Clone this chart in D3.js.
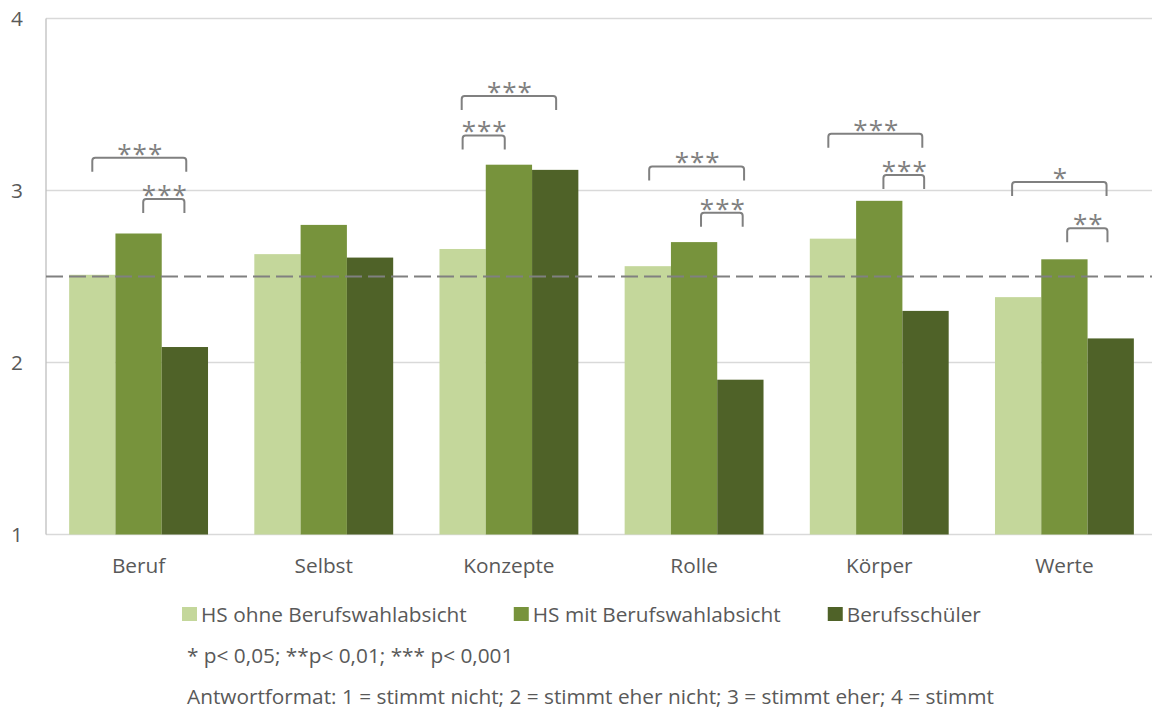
<!DOCTYPE html>
<html>
<head>
<meta charset="utf-8">
<script src="https://cdn.jsdelivr.net/npm/d3@7"></script>
<style>
  body { margin: 0; background: #fff; }
  text { font-family: "Open Sans", "DejaVu Sans", sans-serif; fill: #595959; }
</style>
</head>
<body>
<div id="chart"></div>
<script>
// categories and series
const categories = ["Beruf", "Selbst", "Konzepte", "Rolle", "Körper", "Werte"];
const seriesNames = ["HS ohne Berufswahlabsicht", "HS mit Berufswahlabsicht", "Berufsschüler"];
const seriesColors = ["#c4d79b", "#77933c", "#4f6228"];

const hsOhne = [2.51, 2.63, 2.66, 2.56, 2.72, 2.38];
const hsMit = [2.75, 2.80, 3.15, 2.70, 2.94, 2.60];
const berufsschueler = [2.09, 2.61, 3.12, 1.90, 2.30, 2.14];

const yTicks = [1, 2, 3, 4];
const midLine = 2.5;

// significance brackets: category, from/to (in bar units inside the group), level, label
const brackets = [
  { cat: "Beruf", from: 0.50, to: 2.53, level: 3.19, label: "***" },
  { cat: "Beruf", from: 1.60, to: 2.49, level: 2.95, label: "***" },
  { cat: "Konzepte", from: 0.48, to: 2.52, level: 3.55, label: "***" },
  { cat: "Konzepte", from: 0.50, to: 1.41, level: 3.32, label: "***" },
  { cat: "Rolle", from: 0.53, to: 2.58, level: 3.14, label: "***" },
  { cat: "Rolle", from: 1.65, to: 2.55, level: 2.87, label: "***" },
  { cat: "Körper", from: 0.40, to: 2.43, level: 3.33, label: "***" },
  { cat: "Körper", from: 1.59, to: 2.47, level: 3.09, label: "***" },
  { cat: "Werte", from: 0.37, to: 2.41, level: 3.05, label: "*" },
  { cat: "Werte", from: 1.56, to: 2.43, level: 2.78, label: "**" }
];

const footnote = "* p< 0,05; **p< 0,01; *** p< 0,001";
const antwortformat = "Antwortformat: 1 = stimmt nicht; 2 = stimmt eher nicht; 3 = stimmt eher; 4 = stimmt";

const W = 1152, H = 711;
const margin = { top: 18.5, left: 46, bottom: 711 - 534.5 };
const plotRight = 1157;
const fontSize = "20.8px";

const svg = d3.select("#chart").append("svg")
  .attr("width", W).attr("height", H);

const x0 = d3.scaleBand()
  .domain(categories)
  .range([margin.left, plotRight])
  .paddingInner(0.25)
  .paddingOuter(0.125);

const x1 = d3.scaleBand()
  .domain(d3.range(seriesNames.length))
  .range([0, x0.bandwidth()]);

const y = d3.scaleLinear()
  .domain([1, 4])
  .range([H - margin.bottom, margin.top]);

// gridlines
svg.append("g")
  .selectAll("line")
  .data(yTicks)
  .join("line")
  .attr("x1", margin.left).attr("x2", W)
  .attr("y1", d => y(d)).attr("y2", d => y(d))
  .attr("stroke", "#d9d9d9")
  .attr("stroke-width", d => d === 1 ? 1.5 : 1.3);

// left axis line
svg.append("line")
  .attr("x1", margin.left).attr("x2", margin.left)
  .attr("y1", y(4)).attr("y2", y(1))
  .attr("stroke", "#bfbfbf").attr("stroke-width", 1.3);

// y tick labels
svg.append("g")
  .selectAll("text")
  .data(yTicks)
  .join("text")
  .attr("x", 17)
  .attr("y", d => y(d))
  .attr("dy", "0.35em")
  .attr("text-anchor", "middle")
  .style("font-size", fontSize)
  .text(d => d);

// bars
const values = [hsOhne, hsMit, berufsschueler];
const barData = [];
categories.forEach((c, i) => {
  values.forEach((vals, s) => barData.push({ cat: c, s: s, v: vals[i] }));
});

svg.append("g")
  .selectAll("rect")
  .data(barData)
  .join("rect")
  .attr("x", d => x0(d.cat) + x1(d.s))
  .attr("width", x1.bandwidth())
  .attr("y", d => y(d.v))
  .attr("height", d => y(1) - y(d.v))
  .attr("fill", d => seriesColors[d.s]);

// dashed reference line
svg.append("line")
  .attr("x1", margin.left).attr("x2", W)
  .attr("y1", y(midLine)).attr("y2", y(midLine))
  .attr("stroke", "#808080")
  .attr("stroke-width", 2)
  .attr("stroke-dasharray", "17,6");

// category labels
svg.append("g")
  .selectAll("text")
  .data(categories)
  .join("text")
  .attr("x", d => x0(d) + x0.bandwidth() / 2)
  .attr("y", 573)
  .attr("text-anchor", "middle")
  .style("font-size", fontSize)
  .text(d => d);

// significance brackets
const legLen = 14;
const bw = x1.bandwidth();
const bg = svg.append("g");
brackets.forEach(b => {
  const xa = x0(b.cat) + b.from * bw;
  const xb = x0(b.cat) + b.to * bw;
  const yt = y(b.level);
  const r = 3;
  bg.append("path")
    .attr("d", `M${xa},${yt + legLen} L${xa},${yt + r} Q${xa},${yt} ${xa + r},${yt} L${xb - r},${yt} Q${xb},${yt} ${xb},${yt + r} L${xb},${yt + legLen}`)
    .attr("fill", "none")
    .attr("stroke", "#808080")
    .attr("stroke-width", 2);
  bg.append("text")
    .attr("x", (xa + xb) / 2 + 1)
    .attr("y", yt + 5)
    .attr("text-anchor", "middle")
    .style("font-size", "26px")
    .style("letter-spacing", "1px")
    .style("fill", "#808080")
    .text(b.label);
});

// legend
const legend = svg.append("g");
let lx = 182;
seriesNames.forEach((name, i) => {
  legend.append("rect")
    .attr("x", lx).attr("y", 607)
    .attr("width", 15).attr("height", 14)
    .attr("fill", seriesColors[i]);
  const t = legend.append("text")
    .attr("x", lx + 19)
    .attr("y", 621.5)
    .style("font-size", fontSize)
    .text(name);
  lx += 19 + t.node().getComputedTextLength() + 47;
});

svg.append("text")
  .attr("x", 187).attr("y", 663)
  .style("font-size", fontSize)
  .text(footnote);

svg.append("text")
  .attr("x", 187).attr("y", 704)
  .style("font-size", fontSize)
  .text(antwortformat);
</script>
</body>
</html>
